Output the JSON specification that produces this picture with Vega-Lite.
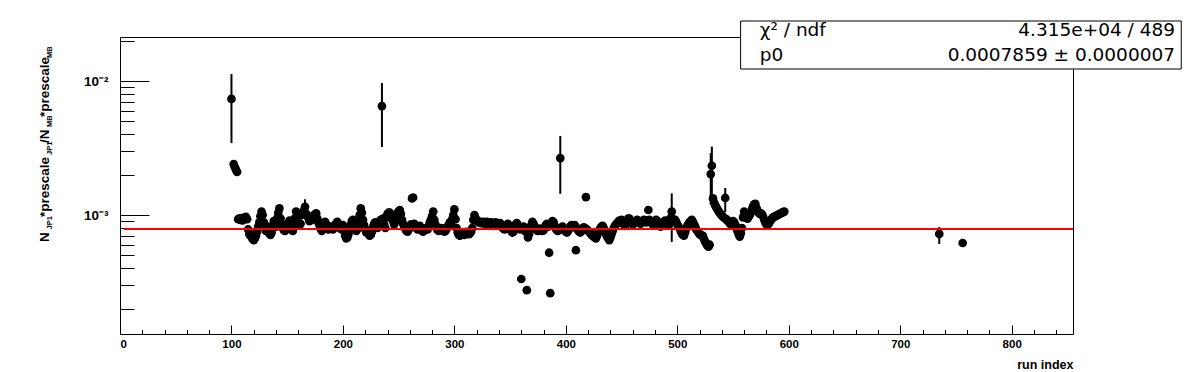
{
  "$schema": "https://vega.github.io/schema/vega-lite/v6.json",
  "width": 953,
  "height": 297,
  "autosize": "none",
  "padding": {"left": 120, "top": 37, "right": 123, "bottom": 38},
  "background": "white",
  "config": {"view": {"stroke": "black", "strokeWidth": 1}, "axis": {"grid": false}},
  "datasets": {
    "runs": [
      {"r":100,"v":0.00735,"lo":0.00344,"hi":0.01127},
      {"r":102,"v":0.0024},{"r":103,"v":0.00228},{"r":104,"v":0.00218},{"r":105,"v":0.0021},
      {"r":106,"v":0.00093},{"r":107,"v":0.00094},{"r":108,"v":0.00092},{"r":109,"v":0.00095},{"r":110,"v":0.00091},
      {"r":111,"v":0.00094},{"r":112,"v":0.00096},{"r":113,"v":0.00097},{"r":114,"v":0.00093},{"r":115,"v":0.00078},
      {"r":116,"v":0.00072},{"r":117,"v":0.0007},{"r":118,"v":0.00071},{"r":119,"v":0.00066},{"r":120,"v":0.00065},
      {"r":121,"v":0.00067},{"r":122,"v":0.0007},{"r":123,"v":0.00075},{"r":124,"v":0.00082},{"r":125,"v":0.00088},
      {"r":126,"v":0.00098},{"r":127,"v":0.00106},{"r":128,"v":0.001},{"r":129,"v":0.00088},{"r":130,"v":0.0008},
      {"r":131,"v":0.00076},{"r":132,"v":0.00082},{"r":133,"v":0.00079},{"r":134,"v":0.00073},{"r":135,"v":0.00071},
      {"r":136,"v":0.00074},{"r":137,"v":0.00083},{"r":138,"v":0.0009},{"r":139,"v":0.00088},{"r":140,"v":0.00082},
      {"r":141,"v":0.00095},{"r":142,"v":0.00104},{"r":143,"v":0.00112},{"r":144,"v":0.00094},{"r":145,"v":0.00086},
      {"r":146,"v":0.0008},{"r":147,"v":0.00077},{"r":148,"v":0.00076},{"r":149,"v":0.00078},{"r":150,"v":0.00082},
      {"r":151,"v":0.00086},{"r":152,"v":0.00091},{"r":153,"v":0.00087},{"r":154,"v":0.0008},{"r":155,"v":0.00076},
      {"r":156,"v":0.00081},{"r":157,"v":0.00095},{"r":158,"v":0.00106},{"r":159,"v":0.00098},{"r":160,"v":0.00088},
      {"r":161,"v":0.00084},{"r":162,"v":0.00086},{"r":163,"v":0.001},{"r":164,"v":0.00104},{"r":165,"v":0.00108},
      {"r":166,"v":0.00115,"lo":0.00099,"hi":0.00131},{"r":167,"v":0.00102},{"r":168,"v":0.00099},{"r":169,"v":0.00095},{"r":170,"v":0.0009},
      {"r":171,"v":0.00094},{"r":172,"v":0.00092},{"r":173,"v":0.00097},{"r":174,"v":0.001},{"r":175,"v":0.00098},
      {"r":176,"v":0.00103},{"r":177,"v":0.00094},{"r":178,"v":0.00088},{"r":179,"v":0.00084},{"r":180,"v":0.00079},
      {"r":181,"v":0.00076},{"r":182,"v":0.0008},{"r":183,"v":0.00086},{"r":184,"v":0.00089},{"r":185,"v":0.00085},
      {"r":186,"v":0.0008},{"r":187,"v":0.00078},{"r":188,"v":0.00079},{"r":189,"v":0.00082},{"r":190,"v":0.0008},
      {"r":191,"v":0.00078},{"r":192,"v":0.0008},{"r":193,"v":0.00084},{"r":194,"v":0.00087},{"r":195,"v":0.00089},
      {"r":196,"v":0.00086},{"r":197,"v":0.00082},{"r":198,"v":0.00079},{"r":199,"v":0.00078},{"r":200,"v":0.00084},
      {"r":201,"v":0.00076},{"r":202,"v":0.0007},{"r":203,"v":0.00067},{"r":204,"v":0.00068},{"r":205,"v":0.00072},
      {"r":206,"v":0.00078},{"r":207,"v":0.00084},{"r":208,"v":0.0009},{"r":209,"v":0.00092},{"r":210,"v":0.00086},
      {"r":211,"v":0.0008},{"r":212,"v":0.00076},{"r":213,"v":0.00079},{"r":214,"v":0.00088},{"r":215,"v":0.001},
      {"r":216,"v":0.00112},{"r":217,"v":0.00104},{"r":218,"v":0.00092},{"r":219,"v":0.00084},{"r":220,"v":0.00078},
      {"r":221,"v":0.00074},{"r":222,"v":0.00076},{"r":223,"v":0.00073},{"r":224,"v":0.0007},{"r":225,"v":0.00071},
      {"r":226,"v":0.00075},{"r":227,"v":0.00081},{"r":228,"v":0.00086},{"r":229,"v":0.00088},{"r":230,"v":0.00084},
      {"r":231,"v":0.0008},{"r":232,"v":0.00087},{"r":233,"v":0.0009},{"r":234,"v":0.00092},
      {"r":235,"v":0.0065,"lo":0.00322,"hi":0.00966},
      {"r":236,"v":0.00094},{"r":237,"v":0.00085},{"r":238,"v":0.0008},{"r":239,"v":0.00096},{"r":240,"v":0.00102},
      {"r":241,"v":0.00104},{"r":242,"v":0.00104},{"r":243,"v":0.001},{"r":244,"v":0.00095},{"r":245,"v":0.0009},
      {"r":246,"v":0.00085},{"r":247,"v":0.0009},{"r":248,"v":0.00098},{"r":249,"v":0.00104},{"r":250,"v":0.00106},
      {"r":251,"v":0.00109},{"r":252,"v":0.00102},{"r":253,"v":0.00092},{"r":254,"v":0.00086},{"r":255,"v":0.00082},
      {"r":256,"v":0.00079},{"r":257,"v":0.00076},{"r":258,"v":0.00075},{"r":259,"v":0.00078},{"r":260,"v":0.0008},
      {"r":261,"v":0.00085},{"r":262,"v":0.00133},{"r":263,"v":0.00135},{"r":264,"v":0.00086},{"r":265,"v":0.00082},
      {"r":266,"v":0.0008},{"r":267,"v":0.00078},{"r":268,"v":0.00081},{"r":269,"v":0.00083},{"r":270,"v":0.00079},
      {"r":271,"v":0.00076},{"r":272,"v":0.00075},{"r":273,"v":0.00077},{"r":274,"v":0.00079},{"r":275,"v":0.0008},
      {"r":276,"v":0.00078},{"r":277,"v":0.00083},{"r":278,"v":0.00088},{"r":279,"v":0.00092},{"r":280,"v":0.00098},
      {"r":281,"v":0.00106},{"r":282,"v":0.00092},{"r":283,"v":0.00085},{"r":284,"v":0.0008},{"r":285,"v":0.00077},
      {"r":286,"v":0.00076},{"r":287,"v":0.00078},{"r":288,"v":0.0008},{"r":289,"v":0.00079},{"r":290,"v":0.00077},
      {"r":291,"v":0.00075},{"r":292,"v":0.00076},{"r":293,"v":0.00079},{"r":294,"v":0.00082},{"r":295,"v":0.00085},
      {"r":296,"v":0.00088},{"r":297,"v":0.00086},{"r":298,"v":0.00093},{"r":299,"v":0.001},{"r":300,"v":0.0011},
      {"r":301,"v":0.00093},{"r":302,"v":0.0008},{"r":303,"v":0.00074},{"r":304,"v":0.00071},{"r":305,"v":0.0007},
      {"r":306,"v":0.00072},{"r":307,"v":0.00074},{"r":308,"v":0.00072},{"r":309,"v":0.00071},{"r":310,"v":0.00073},
      {"r":311,"v":0.00075},{"r":312,"v":0.00074},{"r":313,"v":0.00072},{"r":314,"v":0.00073},{"r":315,"v":0.00075},
      {"r":316,"v":0.0008},{"r":317,"v":0.00092},{"r":318,"v":0.001},{"r":319,"v":0.00094},{"r":320,"v":0.00092},
      {"r":321,"v":0.0009},{"r":322,"v":0.00088},{"r":323,"v":0.00089},{"r":324,"v":0.00087},{"r":325,"v":0.00088},
      {"r":326,"v":0.00089},{"r":327,"v":0.00086},{"r":328,"v":0.00087},{"r":329,"v":0.00089},{"r":330,"v":0.00086},
      {"r":331,"v":0.00084},{"r":332,"v":0.00087},{"r":333,"v":0.00088},{"r":334,"v":0.00085},{"r":335,"v":0.00083},
      {"r":336,"v":0.00086},{"r":337,"v":0.00088},{"r":338,"v":0.00086},{"r":339,"v":0.00084},{"r":340,"v":0.00085},
      {"r":341,"v":0.00087},{"r":342,"v":0.00084},{"r":343,"v":0.00081},{"r":344,"v":0.00079},{"r":345,"v":0.00078},
      {"r":346,"v":0.0008},{"r":347,"v":0.00084},{"r":348,"v":0.00086},{"r":349,"v":0.00083},{"r":350,"v":0.00079},
      {"r":351,"v":0.00076},{"r":352,"v":0.00074},{"r":353,"v":0.00075},{"r":354,"v":0.0008},{"r":355,"v":0.00085},
      {"r":356,"v":0.00087},{"r":357,"v":0.00084},{"r":358,"v":0.0008},{"r":359,"v":0.00078},{"r":360,"v":0.000333},
      {"r":361,"v":0.00079},{"r":362,"v":0.00082},{"r":363,"v":0.00078},{"r":364,"v":0.00075},{"r":365,"v":0.000275},
      {"r":366,"v":0.00068},{"r":367,"v":0.00072},{"r":368,"v":0.00078},{"r":369,"v":0.00084},{"r":370,"v":0.00089},
      {"r":371,"v":0.00086},{"r":372,"v":0.00082},{"r":373,"v":0.00079},{"r":374,"v":0.00077},{"r":375,"v":0.00076},
      {"r":376,"v":0.00077},{"r":377,"v":0.00079},{"r":378,"v":0.00078},{"r":379,"v":0.00076},{"r":380,"v":0.00077},
      {"r":381,"v":0.0008},{"r":382,"v":0.00084},{"r":383,"v":0.00086},{"r":384,"v":0.00082},{"r":385,"v":0.000523},
      {"r":386,"v":0.000261},{"r":387,"v":0.00085},{"r":388,"v":0.0009},{"r":389,"v":0.00088},{"r":390,"v":0.00083},
      {"r":391,"v":0.00079},{"r":392,"v":0.00077},{"r":393,"v":0.00076},{"r":394,"v":0.00078},
      {"r":395,"v":0.00266,"lo":0.00144,"hi":0.00389},
      {"r":396,"v":0.0008},{"r":397,"v":0.00082},{"r":398,"v":0.0008},{"r":399,"v":0.00077},{"r":400,"v":0.00075},
      {"r":401,"v":0.00074},{"r":402,"v":0.00076},{"r":403,"v":0.00079},{"r":404,"v":0.00082},{"r":405,"v":0.00084},
      {"r":406,"v":0.00083},{"r":407,"v":0.00081},{"r":408,"v":0.00084},{"r":409,"v":0.000546},{"r":410,"v":0.0008},
      {"r":411,"v":0.00077},{"r":412,"v":0.00075},{"r":413,"v":0.00074},{"r":414,"v":0.00076},{"r":415,"v":0.00079},
      {"r":416,"v":0.00081},{"r":417,"v":0.0008},{"r":418,"v":0.00136},{"r":419,"v":0.00078},{"r":420,"v":0.00076},
      {"r":421,"v":0.00075},{"r":422,"v":0.00073},{"r":423,"v":0.00072},{"r":424,"v":0.0007},{"r":425,"v":0.00069},
      {"r":426,"v":0.00068},{"r":427,"v":0.00067},{"r":428,"v":0.0007},{"r":429,"v":0.00074},{"r":430,"v":0.00077},
      {"r":431,"v":0.0008},{"r":432,"v":0.00082},{"r":433,"v":0.00083},{"r":434,"v":0.0008},{"r":435,"v":0.00076},
      {"r":436,"v":0.00072},{"r":437,"v":0.00069},{"r":438,"v":0.00067},{"r":439,"v":0.00065},{"r":440,"v":0.00068},
      {"r":441,"v":0.00072},{"r":442,"v":0.00076},{"r":443,"v":0.0008},{"r":444,"v":0.00083},{"r":445,"v":0.00085},
      {"r":446,"v":0.00087},{"r":447,"v":0.00089},{"r":448,"v":0.00091},{"r":449,"v":0.0009},{"r":450,"v":0.00092},
      {"r":451,"v":0.00088},{"r":452,"v":0.00085},{"r":453,"v":0.00083},{"r":454,"v":0.00087},{"r":455,"v":0.00091},
      {"r":456,"v":0.00094},{"r":457,"v":0.00094},{"r":458,"v":0.0009},{"r":459,"v":0.00087},{"r":460,"v":0.00085},
      {"r":461,"v":0.00086},{"r":462,"v":0.00088},{"r":463,"v":0.0009},{"r":464,"v":0.00092},{"r":465,"v":0.0009},
      {"r":466,"v":0.00088},{"r":467,"v":0.00086},{"r":468,"v":0.00088},{"r":469,"v":0.0009},{"r":470,"v":0.00092},
      {"r":471,"v":0.0009},{"r":472,"v":0.00088},{"r":473,"v":0.00091},{"r":474,"v":0.00109},{"r":475,"v":0.00092},
      {"r":476,"v":0.00089},{"r":477,"v":0.00087},{"r":478,"v":0.00085},{"r":479,"v":0.00088},{"r":480,"v":0.0009},
      {"r":481,"v":0.00092},{"r":482,"v":0.0009},{"r":483,"v":0.00087},{"r":484,"v":0.00084},{"r":485,"v":0.00082},
      {"r":486,"v":0.00084},{"r":487,"v":0.00086},{"r":488,"v":0.00089},{"r":489,"v":0.00091},{"r":490,"v":0.0009},
      {"r":491,"v":0.00087},{"r":492,"v":0.00085},{"r":493,"v":0.00088},{"r":494,"v":0.00095},
      {"r":495,"v":0.00106,"lo":0.00063,"hi":0.00145},
      {"r":496,"v":0.00093},{"r":497,"v":0.0009},{"r":498,"v":0.00092},{"r":499,"v":0.00089},{"r":500,"v":0.00085},
      {"r":501,"v":0.00082},{"r":502,"v":0.0008},{"r":503,"v":0.00076},{"r":504,"v":0.00073},{"r":505,"v":0.00071},
      {"r":506,"v":0.0007},{"r":507,"v":0.00074},{"r":508,"v":0.00079},{"r":509,"v":0.00083},{"r":510,"v":0.00086},
      {"r":511,"v":0.00088},{"r":512,"v":0.0009},{"r":513,"v":0.00092},{"r":514,"v":0.00089},{"r":515,"v":0.00085},
      {"r":516,"v":0.00082},{"r":517,"v":0.00078},{"r":518,"v":0.00076},{"r":519,"v":0.00074},{"r":520,"v":0.00072},
      {"r":521,"v":0.00071},{"r":522,"v":0.0007},{"r":523,"v":0.0007},{"r":524,"v":0.00066},{"r":525,"v":0.00063},
      {"r":526,"v":0.00061},{"r":527,"v":0.00059},{"r":528,"v":0.00058},{"r":529,"v":0.0006},
      {"r":530,"v":0.00202,"lo":0.0012,"hi":0.0029},
      {"r":531,"v":0.00233,"lo":0.00142,"hi":0.00324},
      {"r":532,"v":0.00133},{"r":533,"v":0.00124},{"r":534,"v":0.00118},{"r":535,"v":0.00114},{"r":536,"v":0.0011},
      {"r":537,"v":0.00107},{"r":538,"v":0.00104},{"r":539,"v":0.00101},{"r":540,"v":0.00099},{"r":541,"v":0.00097},
      {"r":542,"v":0.00095},{"r":543,"v":0.00134,"lo":0.00105,"hi":0.00159},{"r":544,"v":0.00093},{"r":545,"v":0.00091},
      {"r":546,"v":0.00089},{"r":547,"v":0.00087},{"r":548,"v":0.00085},{"r":549,"v":0.00088},{"r":550,"v":0.0009},
      {"r":551,"v":0.00088},{"r":552,"v":0.00085},{"r":553,"v":0.0008},{"r":554,"v":0.00076},{"r":555,"v":0.00072},
      {"r":556,"v":0.00069},{"r":557,"v":0.00073},{"r":558,"v":0.0008},{"r":559,"v":0.00096},{"r":560,"v":0.00106},
      {"r":561,"v":0.001},{"r":562,"v":0.00095},{"r":563,"v":0.00094},{"r":564,"v":0.00097},{"r":565,"v":0.001},
      {"r":566,"v":0.00104},{"r":567,"v":0.0011},{"r":568,"v":0.00116},{"r":569,"v":0.0012},{"r":570,"v":0.00121},
      {"r":571,"v":0.00113},{"r":572,"v":0.00108},{"r":573,"v":0.00104},{"r":574,"v":0.00102},{"r":575,"v":0.00103},
      {"r":576,"v":0.00101},{"r":577,"v":0.00097},{"r":578,"v":0.00092},{"r":579,"v":0.00088},{"r":580,"v":0.00085},
      {"r":581,"v":0.00084},{"r":582,"v":0.00086},{"r":583,"v":0.00089},{"r":584,"v":0.00092},{"r":585,"v":0.00094},
      {"r":586,"v":0.00096},{"r":587,"v":0.00097},{"r":588,"v":0.00098},{"r":589,"v":0.00099},{"r":590,"v":0.001},
      {"r":591,"v":0.00101},{"r":592,"v":0.00102},{"r":593,"v":0.00103},{"r":594,"v":0.00104},{"r":595,"v":0.00105},
      {"r":596,"v":0.00106},
      {"r":735,"v":0.000722,"lo":0.000608,"hi":0.000814},
      {"r":756,"v":0.000618}
    ],
    "fit": [{"p0": 0.0007859, "from": 3.6, "to": 855}]
  },
  "resolve": {"axis": {"x": "independent", "y": "independent"}},
  "layer": [
    {
      "data": {"name": "runs"},
      "transform": [{"filter": "isValid(datum.lo)"}],
      "mark": {"type": "rule", "color": "black", "strokeWidth": 2},
      "encoding": {
        "x": {"field": "r", "type": "quantitative",
              "scale": {"domain": [0, 855], "nice": false, "zero": false},
              "axis": {"orient": "bottom", "values": [20,40,60,80,120,140,160,180,220,240,260,280,320,340,360,380,420,440,460,480,520,540,560,580,620,640,660,680,720,740,760,780,820,840],
                       "tickSize": -4.5, "tickColor": "black", "tickWidth": 1, "labels": false, "domain": false, "title": null, "grid": false}},
        "y": {"field": "lo", "type": "quantitative",
              "scale": {"type": "log", "domain": [0.0001294, 0.0213], "nice": false},
              "axis": {"orient": "left", "values": [0.0002,0.0003,0.0004,0.0005,0.0006,0.0007,0.0008,0.0009,0.002,0.003,0.004,0.005,0.006,0.007,0.008,0.009,0.02],
                       "tickSize": -14, "tickColor": "black", "tickWidth": 1, "labels": false, "domain": false, "title": null, "grid": false}},
        "y2": {"field": "hi"}
      }
    },
    {
      "data": {"name": "runs"},
      "mark": {"type": "circle", "color": "black", "opacity": 1, "size": 76},
      "encoding": {
        "x": {"field": "r", "type": "quantitative",
              "axis": {"orient": "bottom", "values": [0,100,200,300,400,500,600,700,800],
                       "tickSize": -9, "tickColor": "black", "tickWidth": 1, "labels": false, "domain": false, "title": null, "grid": false}},
        "y": {"field": "v", "type": "quantitative",
              "axis": {"orient": "left", "values": [0.01, 0.001],
                       "tickSize": -29, "tickColor": "black", "tickWidth": 1, "labels": false, "domain": false, "title": null, "grid": false}}
      }
    },
    {
      "data": {"name": "fit"},
      "mark": {"type": "rule", "color": "#ff0000", "strokeWidth": 2},
      "encoding": {
        "x": {"field": "from", "type": "quantitative",
              "axis": {"orient": "bottom", "values": [0,100,200,300,400,500,600,700,800], "ticks": false, "domain": false,
                       "labelFont": "Liberation Sans", "labelFontWeight": "bold", "labelFontSize": 11.5, "labelColor": "black", "labelPadding": 4,
                       "title": "run index", "titleAnchor": "end", "titleFont": "Liberation Sans", "titleFontWeight": "bold", "titleFontSize": 12.5,
                       "titleColor": "black", "titlePadding": 9, "grid": false}},
        "x2": {"field": "to"},
        "y": {"field": "p0", "type": "quantitative",
              "axis": {"orient": "left", "values": [0.01, 0.001], "ticks": false, "domain": false,
                       "labelExpr": "datum.value > 0.005 ? '10⁻²' : '10⁻³'",
                       "labelFont": "Liberation Sans", "labelFontWeight": "bold", "labelFontSize": 13.5, "labelColor": "black", "labelPadding": 12,
                       "title": null, "grid": false}}
      }
    },
    {
      "data": {"values": [{"t": "N"}]},
      "mark": {"type": "text", "angle": 270, "align": "left", "baseline": "alphabetic", "font": "Liberation Sans", "fontWeight": "bold", "fontSize": 13.5, "color": "black", "clip": false},
      "encoding": {"text": {"field": "t"}, "x": {"datum": -63.7, "type": "quantitative", "axis": null}, "y": {"datum": 0.000629, "type": "quantitative", "axis": null}}
    },
    {
      "data": {"values": [{"t": "JP1"}]},
      "mark": {"type": "text", "angle": 270, "align": "left", "baseline": "alphabetic", "font": "Liberation Sans", "fontWeight": "bold", "fontSize": 7.5, "color": "black", "clip": false},
      "encoding": {"text": {"field": "t"}, "x": {"datum": -61.2, "type": "quantitative", "axis": null}, "y": {"datum": 0.000779, "type": "quantitative", "axis": null}}
    },
    {
      "data": {"values": [{"t": "*prescale"}]},
      "mark": {"type": "text", "angle": 270, "align": "left", "baseline": "alphabetic", "font": "Liberation Sans", "fontWeight": "bold", "fontSize": 13.5, "color": "black", "clip": false},
      "encoding": {"text": {"field": "t"}, "x": {"datum": -63.7, "type": "quantitative", "axis": null}, "y": {"datum": 0.000966, "type": "quantitative", "axis": null}}
    },
    {
      "data": {"values": [{"t": "JP1"}]},
      "mark": {"type": "text", "angle": 270, "align": "left", "baseline": "alphabetic", "font": "Liberation Sans", "fontWeight": "bold", "fontSize": 7.5, "color": "black", "clip": false},
      "encoding": {"text": {"field": "t"}, "x": {"datum": -61.2, "type": "quantitative", "axis": null}, "y": {"datum": 0.002804, "type": "quantitative", "axis": null}}
    },
    {
      "data": {"values": [{"t": "/N"}]},
      "mark": {"type": "text", "angle": 270, "align": "left", "baseline": "alphabetic", "font": "Liberation Sans", "fontWeight": "bold", "fontSize": 13.5, "color": "black", "clip": false},
      "encoding": {"text": {"field": "t"}, "x": {"datum": -63.7, "type": "quantitative", "axis": null}, "y": {"datum": 0.003446, "type": "quantitative", "axis": null}}
    },
    {
      "data": {"values": [{"t": "MB"}]},
      "mark": {"type": "text", "angle": 270, "align": "left", "baseline": "alphabetic", "font": "Liberation Sans", "fontWeight": "bold", "fontSize": 7.5, "color": "black", "clip": false},
      "encoding": {"text": {"field": "t"}, "x": {"datum": -61.2, "type": "quantitative", "axis": null}, "y": {"datum": 0.004536, "type": "quantitative", "axis": null}}
    },
    {
      "data": {"values": [{"t": "*prescale"}]},
      "mark": {"type": "text", "angle": 270, "align": "left", "baseline": "alphabetic", "font": "Liberation Sans", "fontWeight": "bold", "fontSize": 13.5, "color": "black", "clip": false},
      "encoding": {"text": {"field": "t"}, "x": {"datum": -63.7, "type": "quantitative", "axis": null}, "y": {"datum": 0.005386, "type": "quantitative", "axis": null}}
    },
    {
      "data": {"values": [{"t": "MB"}]},
      "mark": {"type": "text", "angle": 270, "align": "left", "baseline": "alphabetic", "font": "Liberation Sans", "fontWeight": "bold", "fontSize": 7.5, "color": "black", "clip": false},
      "encoding": {"text": {"field": "t"}, "x": {"datum": -61.2, "type": "quantitative", "axis": null}, "y": {"datum": 0.01484, "type": "quantitative", "axis": null}}
    },
    {
      "data": {"values": [{"box": "stats"}]},
      "mark": {"type": "rect", "fill": "white", "stroke": "black", "strokeWidth": 1, "clip": false},
      "encoding": {
        "x": {"datum": 556.8, "type": "quantitative", "axis": null}, "x2": {"datum": 952.1},
        "y": {"datum": 0.02804, "type": "quantitative", "axis": null}, "y2": {"datum": 0.01229}
      }
    },
    {
      "data": {"values": [{"t": "χ² / ndf\np0"}]},
      "mark": {"type": "text", "align": "left", "baseline": "alphabetic", "lineBreak": "\n", "lineHeight": 25.5, "font": "DejaVu Sans", "fontSize": 18.5, "color": "black", "clip": false},
      "encoding": {"text": {"field": "t"}, "x": {"datum": 574, "type": "quantitative", "axis": null}, "y": {"datum": 0.02167, "type": "quantitative", "axis": null}}
    },
    {
      "data": {"values": [{"t": "4.315e+04 / 489\n0.0007859 ± 0.0000007"}]},
      "mark": {"type": "text", "align": "right", "baseline": "alphabetic", "lineBreak": "\n", "lineHeight": 25.5, "font": "DejaVu Sans", "fontSize": 18.5, "color": "black", "clip": false},
      "encoding": {"text": {"field": "t"}, "x": {"datum": 946.5, "type": "quantitative", "axis": null}, "y": {"datum": 0.02167, "type": "quantitative", "axis": null}}
    }
  ]
}
